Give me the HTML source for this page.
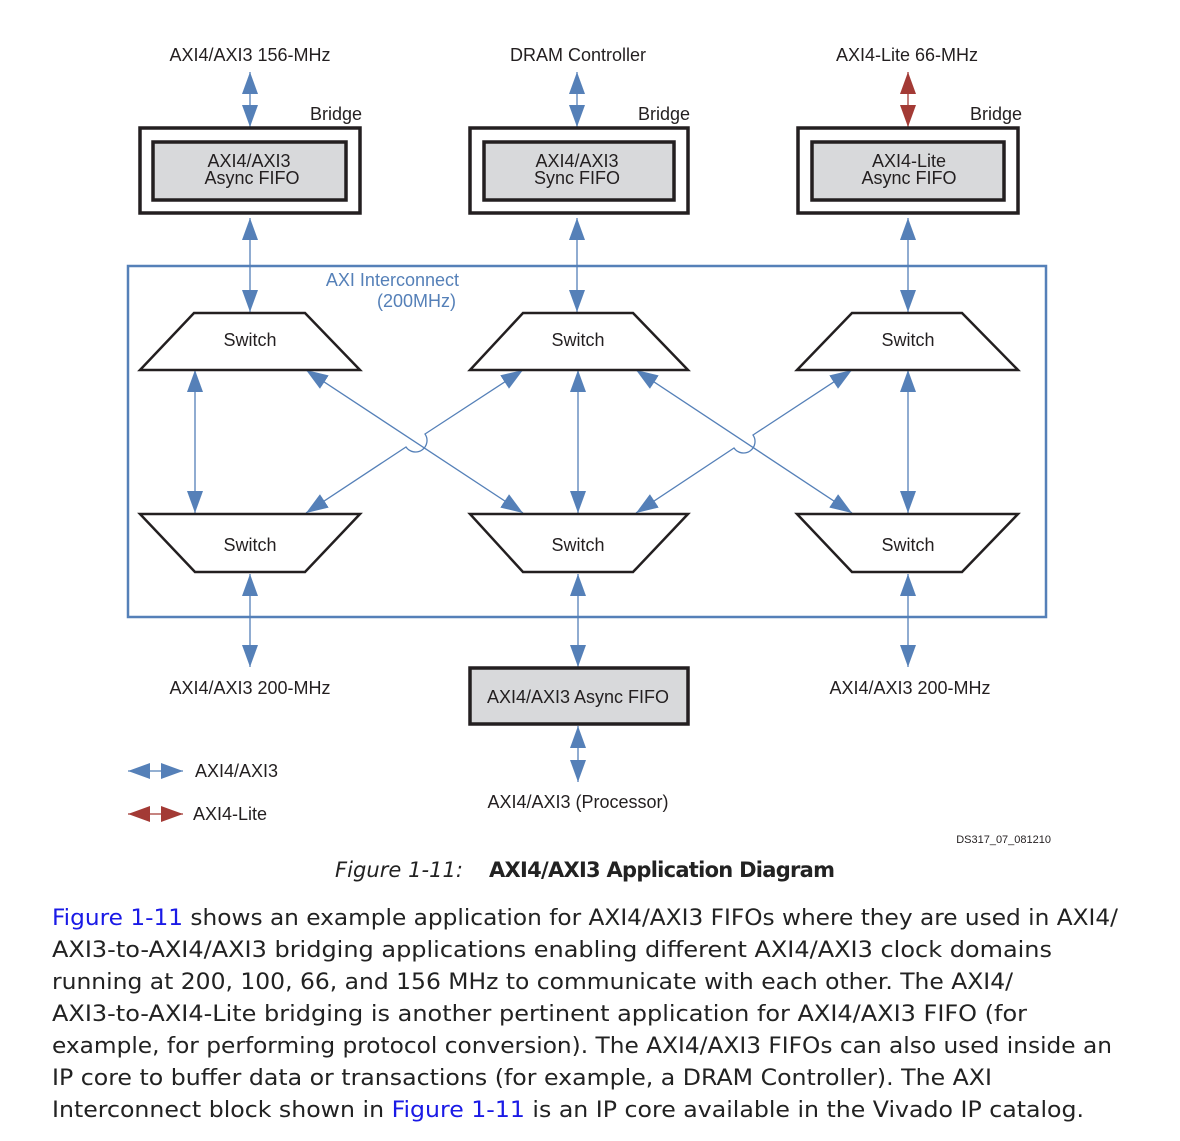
<!DOCTYPE html>
<html><head><meta charset="utf-8"><style>
html,body{margin:0;padding:0;background:#fff}
svg{display:block}
.d{font-family:"Liberation Sans",sans-serif;font-size:18px;fill:#231f20;white-space:pre}
.p{font-family:"DejaVu Sans","Liberation Sans",sans-serif;font-size:22px;fill:#222}
</style></head><body>
<svg width="1180" height="1141" viewBox="0 0 1180 1141" xmlns="http://www.w3.org/2000/svg">
<defs>
<marker id="b" markerUnits="userSpaceOnUse" markerWidth="22" markerHeight="16" refX="22" refY="8" orient="auto-start-reverse"><path d="M0,0 L22,8 L0,16 z" fill="#5580b8"/></marker>
<marker id="r" markerUnits="userSpaceOnUse" markerWidth="22" markerHeight="16" refX="22" refY="8" orient="auto-start-reverse"><path d="M0,0 L22,8 L0,16 z" fill="#a33a35"/></marker>
</defs>
<g stroke="#5580b8" stroke-width="1.3" fill="none">
<line x1="250" y1="72" x2="250" y2="127" marker-start="url(#b)" marker-end="url(#b)"/>
<line x1="577" y1="72" x2="577" y2="127" marker-start="url(#b)" marker-end="url(#b)"/>
<line x1="250" y1="218" x2="250" y2="312" marker-start="url(#b)" marker-end="url(#b)"/>
<line x1="577" y1="218" x2="577" y2="312" marker-start="url(#b)" marker-end="url(#b)"/>
<line x1="908" y1="218" x2="908" y2="312" marker-start="url(#b)" marker-end="url(#b)"/>
<line x1="195" y1="370" x2="195" y2="513" marker-start="url(#b)" marker-end="url(#b)"/>
<line x1="578" y1="370" x2="578" y2="513" marker-start="url(#b)" marker-end="url(#b)"/>
<line x1="908" y1="370" x2="908" y2="513" marker-start="url(#b)" marker-end="url(#b)"/>
<line x1="306" y1="370" x2="523" y2="513" marker-start="url(#b)" marker-end="url(#b)"/>
<path d="M523,370 L425,434 A7,7 0 0 1 406,447 L306,513" marker-start="url(#b)" marker-end="url(#b)"/>
<line x1="636" y1="370" x2="852" y2="513" marker-start="url(#b)" marker-end="url(#b)"/>
<path d="M852,370 L753,435 A7,7 0 0 1 734,448 L636,513" marker-start="url(#b)" marker-end="url(#b)"/>
<line x1="250" y1="574" x2="250" y2="667" marker-start="url(#b)" marker-end="url(#b)"/>
<line x1="578" y1="574" x2="578" y2="667" marker-start="url(#b)" marker-end="url(#b)"/>
<line x1="908" y1="574" x2="908" y2="667" marker-start="url(#b)" marker-end="url(#b)"/>
<line x1="578" y1="726" x2="578" y2="782" marker-start="url(#b)" marker-end="url(#b)"/>
<line x1="128" y1="771" x2="183" y2="771" marker-start="url(#b)" marker-end="url(#b)"/>
</g>
<g stroke="#a33a35" stroke-width="1.3">
<line x1="908" y1="72" x2="908" y2="127" marker-start="url(#r)" marker-end="url(#r)"/>
<line x1="128" y1="814" x2="183" y2="814" marker-start="url(#r)" marker-end="url(#r)"/>
</g>
<rect x="128" y="266" width="918" height="351" fill="none" stroke="#5580b8" stroke-width="2.5"/>
<g stroke="#231f20" stroke-width="3.5">
<rect x="140" y="128" width="220" height="85" fill="#fff"/>
<rect x="153" y="142" width="193" height="58" fill="#d8d9db"/>
<rect x="470" y="128" width="218" height="85" fill="#fff"/>
<rect x="484" y="142" width="190" height="58" fill="#d8d9db"/>
<rect x="798" y="128" width="220" height="85" fill="#fff"/>
<rect x="812" y="142" width="192" height="58" fill="#d8d9db"/>
<rect x="470" y="668" width="218" height="56" fill="#d8d9db"/>
</g>
<g stroke="#231f20" stroke-width="2.5" fill="#fff">
<polygon points="194,313 305,313 360,370 140,370"/>
<polygon points="523,313 633,313 688,370 470,370"/>
<polygon points="852,313 962,313 1018,370 797,370"/>
<polygon points="140,514 360,514 305,572 195,572"/>
<polygon points="470,514 688,514 633,572 523,572"/>
<polygon points="797,514 1018,514 962,572 852,572"/>
</g>
<g class="d">
<text x="250" y="61" text-anchor="middle">AXI4/AXI3 156-MHz</text>
<text x="578" y="61" text-anchor="middle">DRAM Controller</text>
<text x="907" y="61" text-anchor="middle">AXI4-Lite 66-MHz</text>
<text x="362" y="120" text-anchor="end">Bridge</text>
<text x="690" y="120" text-anchor="end">Bridge</text>
<text x="1022" y="120" text-anchor="end">Bridge</text>
<text x="249" y="167" text-anchor="middle">AXI4/AXI3</text>
<text x="252" y="184" text-anchor="middle">Async FIFO</text>
<text x="577" y="167" text-anchor="middle">AXI4/AXI3</text>
<text x="577" y="184" text-anchor="middle">Sync FIFO</text>
<text x="909" y="167" text-anchor="middle">AXI4-Lite</text>
<text x="909" y="184" text-anchor="middle">Async FIFO</text>
<text x="459" y="286" text-anchor="end" fill="#5580b8">AXI Interconnect</text>
<text x="456" y="307" text-anchor="end" fill="#5580b8">(200MHz)</text>
<text x="250" y="346" text-anchor="middle">Switch</text>
<text x="578" y="346" text-anchor="middle">Switch</text>
<text x="908" y="346" text-anchor="middle">Switch</text>
<text x="250" y="551" text-anchor="middle">Switch</text>
<text x="578" y="551" text-anchor="middle">Switch</text>
<text x="908" y="551" text-anchor="middle">Switch</text>
<text x="250" y="694" text-anchor="middle">AXI4/AXI3 200-MHz</text>
<text x="578" y="703" text-anchor="middle">AXI4/AXI3  Async  FIFO</text>
<text x="910" y="694" text-anchor="middle">AXI4/AXI3  200-MHz</text>
<text x="195" y="777">AXI4/AXI3</text>
<text x="193" y="820">AXI4-Lite</text>
<text x="578" y="808" text-anchor="middle">AXI4/AXI3 (Processor)</text>
<text x="1051" y="843" text-anchor="end" style="font-size:11px">DS317_07_081210</text>
</g>
<text x="335" y="877" class="p" style="font-style:italic;font-size:21px" textLength="128">Figure 1-11:</text>
<text x="489" y="877" class="p" style="font-weight:bold;font-size:21px" textLength="346">AXI4/AXI3 Application Diagram</text>
<g class="p">
<text x="52" y="925" textLength="1066" lengthAdjust="spacingAndGlyphs"><tspan fill="#1a1ae6">Figure 1-11</tspan> shows an example application for AXI4/AXI3 FIFOs where they are used in AXI4/</text>
<text x="52" y="957" textLength="1000" lengthAdjust="spacingAndGlyphs">AXI3-to-AXI4/AXI3 bridging applications enabling different AXI4/AXI3 clock domains</text>
<text x="52" y="989" textLength="961" lengthAdjust="spacingAndGlyphs">running at 200, 100, 66, and 156 MHz to communicate with each other. The AXI4/</text>
<text x="52" y="1021" textLength="975" lengthAdjust="spacingAndGlyphs">AXI3-to-AXI4-Lite bridging is another pertinent application for AXI4/AXI3 FIFO (for</text>
<text x="52" y="1053" textLength="1060" lengthAdjust="spacingAndGlyphs">example, for performing protocol conversion). The AXI4/AXI3 FIFOs can also used inside an</text>
<text x="52" y="1085" textLength="940" lengthAdjust="spacingAndGlyphs">IP core to buffer data or transactions (for example, a DRAM Controller). The AXI</text>
<text x="52" y="1117" textLength="1032" lengthAdjust="spacingAndGlyphs">Interconnect block shown in <tspan fill="#1a1ae6">Figure 1-11</tspan> is an IP core available in the Vivado IP catalog.</text>
</g>
</svg>
</body></html>
